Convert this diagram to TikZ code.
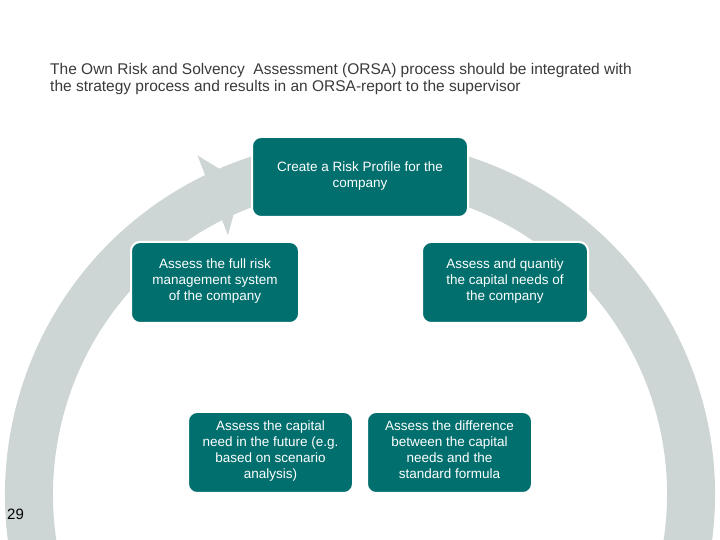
\documentclass[tikz,border=0pt]{standalone}
\usepackage{fontspec}
\setmainfont{Liberation Sans}
\usetikzlibrary{calc}
\begin{document}
\begin{tikzpicture}[x=1pt,y=1pt,
  box/.style={draw=white,line width=2pt,fill=teal0,rounded corners=9pt,inner sep=0pt},
  btxt/.style={anchor=north,text=white,align=center,font=\fontsize{13.5}{16}\selectfont,inner sep=0pt}]
\definecolor{teal0}{HTML}{006F6E}
\definecolor{ring}{HTML}{CDD5D5}
\definecolor{ttl}{HTML}{3A3A3A}
\useasboundingbox (0,0) rectangle (720,540);
\clip (0,0) rectangle (720,540);
\coordinate (c) at (360,45.5);
\fill[ring] ($(c)+(116.5:355)$) arc[start angle=116.5,end angle=-280,radius=355]
  -- ($(c)+(-280:307)$) arc[start angle=-280,end angle=116.5,radius=307] -- cycle;
\fill[ring] ($(c)+(117:291)$) -- ($(c)+(110.7:333)$) -- ($(c)+(115.6:376)$) -- cycle;
\node[box,minimum width=216,minimum height=80] (b1) at (360,363) {};
\node[box,minimum width=168,minimum height=81] (b2) at (215,257.5) {};
\node[box,minimum width=166,minimum height=81] (b3) at (505,257.5) {};
\node[box,minimum width=165,minimum height=81] (b4) at (270.5,87.5) {};
\node[box,minimum width=165,minimum height=81] (b5) at (449.5,87.5) {};
\node[btxt] (t1) at (360,378) {Create a Risk Profile for the\\company};
\node[btxt] (t2) at (215,281) {Assess the full risk\\management system\\of the company};
\node[btxt] (t3) at (505,281) {Assess and quantiy\\the capital needs of\\the company};
\node[btxt] (t4) at (270.5,119) {Assess the capital\\need in the future (e.g.\\based on scenario\\analysis)};
\node[btxt] (t5) at (449.5,119) {Assess the difference\\between the capital\\needs and the\\standard formula};
\node[anchor=north west,inner sep=0pt,text=ttl,align=left,font=\fontsize{15.5}{17}\selectfont] (title) at (50,477)
 {The Own Risk and Solvency\ \ Assessment (ORSA) process should be integrated with\\the strategy process and results in an ORSA-report to the supervisor};
\node[anchor=west,inner sep=0pt,font=\fontsize{15}{17}\selectfont] (pg) at (7,26) {29};
\end{tikzpicture}
\end{document}
